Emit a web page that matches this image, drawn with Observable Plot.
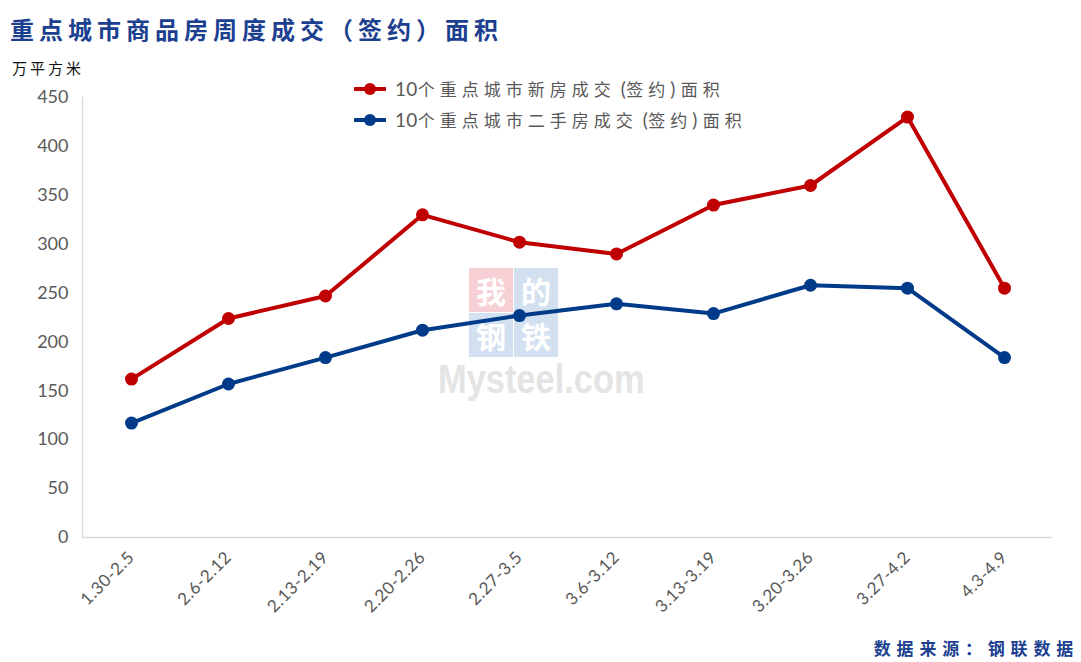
<!DOCTYPE html>
<html>
<head>
<meta charset="utf-8">
<script src="https://cdn.jsdelivr.net/npm/d3@7"></script>
<script src="https://cdn.jsdelivr.net/npm/@observablehq/plot@0.6"></script>
<style>
  html, body { margin: 0; padding: 0; background: #fff; }
  #wrap { position: relative; width: 1081px; height: 662px; overflow: hidden; font-family: "Noto Sans CJK SC", sans-serif; }
  #title { position: absolute; left: 10px; top: 11px; font-size: 24px; font-weight: 700; color: #1c3f8f; letter-spacing: 5px; white-space: nowrap; }
  #unit { position: absolute; left: 12px; top: 57px; font-size: 15px; color: #111; letter-spacing: 3px; }
  #chart { position: absolute; left: 0; top: 80px; z-index: 2; }
  .leg { position: absolute; left: 354px; display: flex; align-items: center; font-size: 17px; color: #595959; white-space: nowrap; z-index: 3; }
  .leg svg { margin-right: 9px; }
  .leg .cjk { letter-spacing: 5px; }
  .leg .lat { font-family: Lato, sans-serif; font-size: 19px; letter-spacing: 0.3px; white-space: pre; }
  #source { position: absolute; right: 2px; top: 635px; font-size: 17px; font-weight: 700; color: #1c3f8f; letter-spacing: 5.8px; }
  .wm { position: absolute; z-index: 1; }
  .box { position: absolute; width: 44px; height: 44px; font-size: 30px; line-height: 44px; text-align: center; font-weight: 700; color: #fff; overflow: hidden; }
</style>
</head>
<body>
<div id="wrap">
  <div id="title"></div>
  <div id="unit"></div>
  <div id="legend"></div>
  <div class="wm" style="left:469px; top:268px;">
    <div class="box" style="left:0; top:0; background:#f6d0d4;">我</div>
    <div class="box" style="left:45px; top:0; background:#d3e0f0;">的</div>
    <div class="box" style="left:0; top:45px; background:#d3e0f0;">钢</div>
    <div class="box" style="left:45px; top:45px; background:#d3e0f0;">铁</div>
  </div>
  <div class="wm" style="left:438px; top:359px; font-family:'Liberation Sans',sans-serif; font-weight:700; font-size:40px; line-height:40px; color:#e4e4e4; transform-origin:0 0; transform:scaleX(0.86);">Mysteel.com</div>
  <div id="chart"></div>
  <div id="source"></div>
</div>
<script>
const titleText = "重点城市商品房周度成交（签约）面积";
const unitText = "万平方米";
const sourceText = "数据来源：钢联数据";
const categories = ["1.30-2.5", "2.6-2.12", "2.13-2.19", "2.20-2.26", "2.27-3.5", "3.6-3.12", "3.13-3.19", "3.20-3.26", "3.27-4.2", "4.3-4.9"];
const seriesNames = ["10个重点城市新房成交 (签约) 面积", "10个重点城市二手房成交 (签约) 面积"];
const newHomeValues = [162, 224, 247, 330, 302, 290, 340, 360, 430, 255];
const secondHandValues = [117, 157, 184, 212, 227, 239, 229, 258, 255, 184];
const yTicks = [0, 50, 100, 150, 200, 250, 300, 350, 400, 450];
const seriesColors = ["#c00000", "#003b8a"];

document.getElementById("title").textContent = titleText;
document.getElementById("unit").textContent = unitText;
document.getElementById("source").textContent = sourceText;

const data = [];
categories.forEach((c, i) => {
  data.push({cat: c, v: newHomeValues[i], s: seriesNames[0]});
  data.push({cat: c, v: secondHandValues[i], s: seriesNames[1]});
});

const chart = Plot.plot({
  width: 1081,
  height: 545,
  marginTop: 17,
  marginLeft: 82,
  marginRight: 29,
  marginBottom: 88,
  style: {background: "transparent", overflow: "visible"},
  x: {type: "point", domain: categories, padding: 0.5, label: null},
  y: {domain: [0, 450], label: null},
  color: {domain: seriesNames, range: seriesColors},
  marks: [
    Plot.frame({anchor: "left", stroke: "#d9d9d9", strokeWidth: 1.5}),
    Plot.ruleY([0], {stroke: "#d9d9d9", strokeWidth: 1.5}),
    Plot.axisY(yTicks, {tickSize: 0, tickPadding: 14, fontSize: 18, fill: "#595959", fontFamily: "Lato, sans-serif", label: null}),
    Plot.axisX({tickSize: 0, tickPadding: 17, tickRotate: -45, fontSize: 17, fill: "#595959", fontFamily: "Lato, sans-serif", label: null}),
    Plot.line(data, {x: "cat", y: "v", z: "s", stroke: "s", strokeWidth: 4, strokeLinejoin: "round"}),
    Plot.dot(data, {x: "cat", y: "v", fill: "s", r: 6.5, stroke: "none"})
  ]
});
document.getElementById("chart").appendChild(chart);
chart.querySelectorAll("g[aria-label='x-axis tick label'] text").forEach(t => t.style.letterSpacing = "0.5px");

const legend = document.getElementById("legend");
seriesNames.forEach((name, i) => {
  const row = document.createElement("div");
  row.className = "leg";
  row.style.top = (i === 0 ? 76 : 107) + "px";
  const sw = d3.create("svg").attr("width", 32).attr("height", 14);
  sw.append("line").attr("x1", 1).attr("x2", 31).attr("y1", 7).attr("y2", 7).attr("stroke", seriesColors[i]).attr("stroke-width", 4).attr("stroke-linecap", "round");
  sw.append("circle").attr("cx", 16).attr("cy", 7).attr("r", 6).attr("fill", seriesColors[i]);
  row.appendChild(sw.node());
  const t = document.createElement("span");
  // split the label into Latin and CJK runs so each gets its own spacing
  (name.match(/[\x00-\x7F]+|[^\x00-\x7F]+/g) || []).forEach(run => {
    const s = document.createElement("span");
    const latin = /^[\x00-\x7F]+$/.test(run);
    s.className = latin ? "lat" : "cjk";
    s.textContent = run;
    t.appendChild(s);
  });
  row.appendChild(t);
  legend.appendChild(row);
});
</script>
</body>
</html>
